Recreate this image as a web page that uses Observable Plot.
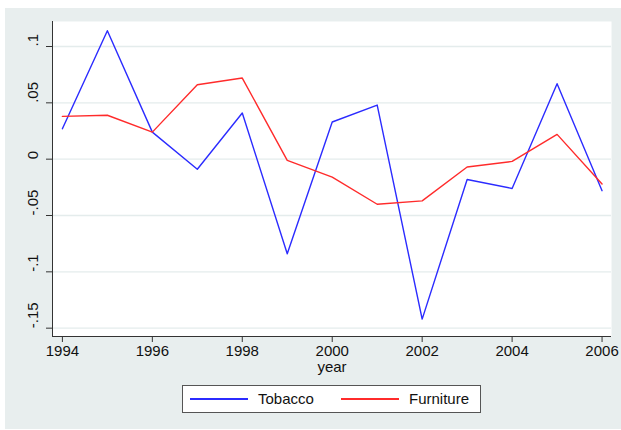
<!DOCTYPE html>
<html>
<head>
<meta charset="utf-8">
<script src="https://cdn.jsdelivr.net/npm/d3@7"></script>
<script src="https://cdn.jsdelivr.net/npm/@observablehq/plot@0.6"></script>
<style>
  html, body { margin: 0; padding: 0; background: #ffffff; }
  #wrap { position: absolute; left: 5px; top: 8px; width: 616px; height: 421px; background: #e8eeee; font-family: "Liberation Sans", Arial, sans-serif; }
  #legend { position: absolute; left: 177px; top: 377px; width: 297px; height: 26px; background: #ffffff; border: 1px solid #555555; }
  .sw { position: absolute; top: 12px; height: 2px; }
  .lab { position: absolute; top: 4px; font-size: 15px; color: #111; line-height: 18px; }
</style>
</head>
<body>
<div id="wrap"><div id="chart"></div>
  <div id="legend"></div>
</div>
<script>
const years = [1994,1995,1996,1997,1998,1999,2000,2001,2002,2003,2004,2005,2006];
const tobacco = [0.027,0.114,0.024,-0.009,0.041,-0.084,0.033,0.048,-0.142,-0.018,-0.026,0.067,-0.028];
const furniture = [0.038,0.039,0.024,0.066,0.072,-0.001,-0.016,-0.040,-0.037,-0.007,-0.002,0.022,-0.022];
const seriesNames = ["Tobacco","Furniture"];
const seriesColors = ["#2b2bff","#ff2b2b"];
const xTicks = [1994,1996,1998,2000,2002,2004,2006];
const yTicks = [-0.15,-0.1,-0.05,0,0.05,0.1];
const yTickLabels = ["-.15","-.1","-.05","0",".05",".1"];
const xLabel = "year";

const xDomain = [1993.78, 2006.21];
const yDomain = [-0.1574, 0.1222];

const rows = [];
years.forEach((y,i) => {
  rows.push({year: y, value: tobacco[i], series: seriesNames[0]});
  rows.push({year: y, value: furniture[i], series: seriesNames[1]});
});

const font = "Liberation Sans, Arial, sans-serif";
const chart = Plot.plot({
  width: 616,
  height: 372,
  marginLeft: 47,
  marginRight: 10,
  marginTop: 13,
  marginBottom: 44,
  style: {background: "transparent", fontFamily: font, fontSize: "15px", color: "#111"},
  x: {domain: xDomain},
  y: {domain: yDomain},
  color: {domain: seriesNames, range: seriesColors},
  marks: [
    Plot.frame({fill: "#ffffff", stroke: "none"}),
    Plot.gridY(yTicks, {stroke: "#e4ecec", strokeOpacity: 1, strokeWidth: 1.4}),
    Plot.line(rows, {x: "year", y: "value", z: "series", stroke: "series", strokeWidth: 1.4}),
    Plot.ruleX([xDomain[0]], {stroke: "#333"}),
    Plot.ruleY([yDomain[0]], {stroke: "#333"}),
    Plot.axisY(yTicks, {tickSize: 6, tickFormat: () => "", stroke: "#333", label: null}),
    Plot.axisX(xTicks, {tickSize: 6, tickPadding: 3, tickFormat: d => String(d), stroke: "#333", fontSize: 15, label: null}),
    Plot.text(yTicks, {y: d => d, frameAnchor: "left", dx: -19, rotate: -90, text: (d, i) => yTickLabels[i], fontSize: 15, fill: "#111"}),
    Plot.text([xLabel], {frameAnchor: "bottom", dy: 35, text: d => d, fontSize: 15, fill: "#111"})
  ]
});
document.getElementById("chart").appendChild(chart);

const leg = document.getElementById("legend");
const swX = [7, 158];
const labX = [75, 226];
seriesNames.forEach((n, i) => {
  const s = document.createElement("div");
  s.className = "sw";
  s.style.left = swX[i] + "px";
  s.style.width = "58px";
  s.style.background = seriesColors[i];
  leg.appendChild(s);
  const t = document.createElement("div");
  t.className = "lab";
  t.style.left = labX[i] + "px";
  t.textContent = n;
  leg.appendChild(t);
});
</script>
</body>
</html>
